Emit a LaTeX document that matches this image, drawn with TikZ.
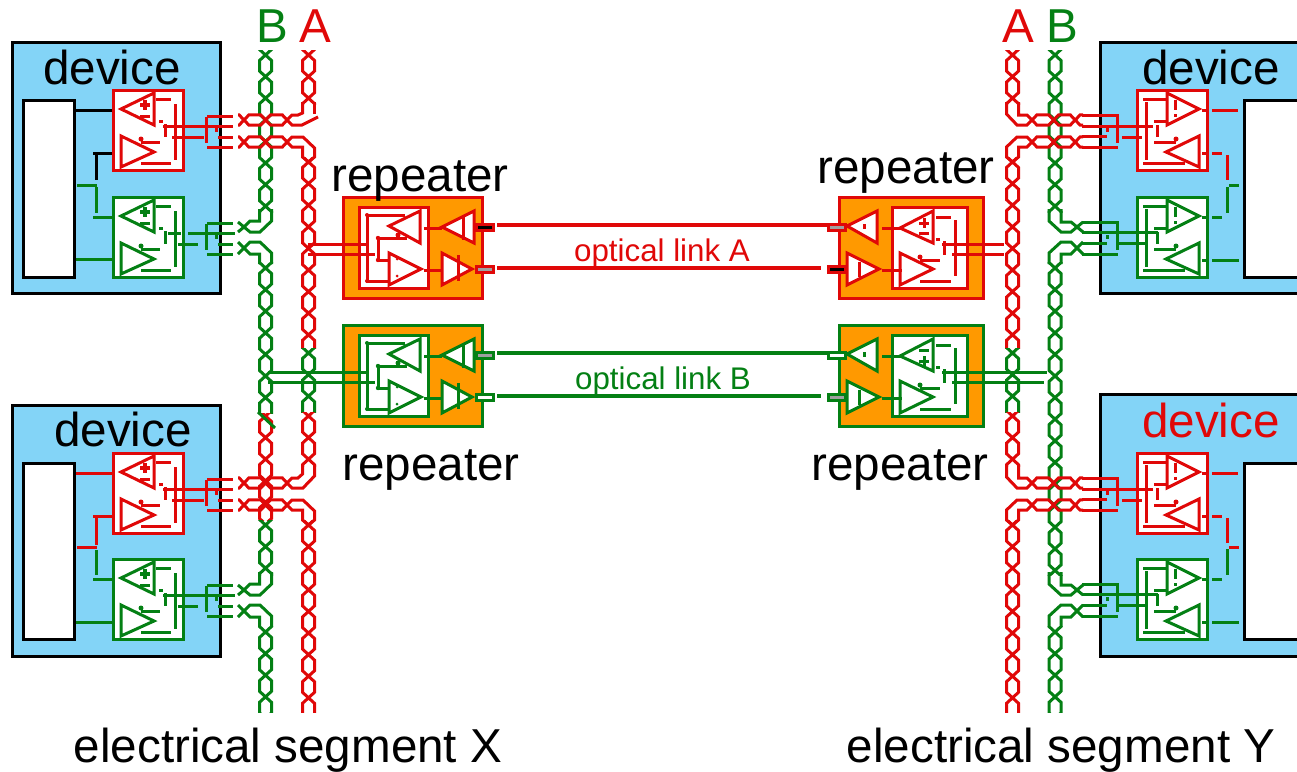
\documentclass[tikz,border=0pt]{standalone}
\usepackage{fontspec}
\setmainfont{Liberation Sans}
\definecolor{cR}{HTML}{E00808}
\definecolor{cG}{HTML}{048014}
\definecolor{cB}{HTML}{83D4F7}
\definecolor{cO}{HTML}{FF9900}
\definecolor{cGy}{HTML}{A0A0A0}
\tikzset{
 wire/.style={line width=3.2pt,line join=miter},
 fine/.style={line width=3pt,line join=miter},
 boxw/.style={line width=3pt,line join=miter},
 devbox/.style={draw=black,line width=3pt,fill=cB},
 slot/.style={draw=black,line width=3pt,fill=white},
 big/.style={font=\fontsize{47.6}{48}\selectfont,anchor=base},
 small/.style={font=\fontsize{31.3}{32}\selectfont,anchor=base},
}
% twisted pair, vertical: colour, x, first crossing, start, end
\newcommand\TwV[5]{\begin{scope}
 \clip (#2-10,#4) rectangle (#2+10,#5);
 \pgfmathtruncatemacro\nn{(#5-#3)/21.6+1}
 \foreach \k in {-1,...,\nn}{
  \pgfmathsetmacro\ya{#3+\k*21.6}\pgfmathsetmacro\yb{\ya+21.6}
  \draw[fine,#1] (#2,\ya)--(#2+6,\ya+5.5)--(#2+6,\yb-5.5)--(#2,\yb)--(#2-6,\yb-5.5)--(#2-6,\ya+5.5)--cycle;}
 \end{scope}}
% twisted pair, horizontal: colour, y, first crossing, start, end
\newcommand\TwH[5]{\begin{scope}
 \clip (#4,#2-10) rectangle (#5,#2+10);
 \pgfmathtruncatemacro\nn{(#5-#3)/21.6+1}
 \foreach \k in {-1,...,\nn}{
  \pgfmathsetmacro\xa{#3+\k*21.6}\pgfmathsetmacro\xb{\xa+21.6}
  \draw[fine,#1] (\xa,#2)--(\xa+5,#2+5.2)--(\xb-5,#2+5.2)--(\xb,#2)--(\xb-5,#2-5.2)--(\xa+5,#2-5.2)--cycle;}
 \end{scope}}
% transceiver, left devices
\newcommand\XL[4]{\begin{scope}[shift={(#1,#2)},color=#3]
 \draw[boxw,fill=white] (0,0) rectangle (70,80);
 \draw[fine] (8,19)--(41,3)--(41,35)--cycle;
 \draw[fine] (8,46)--(8,77)--(41,62)--cycle;
 \draw[wire] (32,10)--(32,20) (27,15)--(37,15);
 \draw[fine] (27,26)--(37,26);
 \draw[fine] (43,9)--(58,9) (62,14)--(62,70) (46,31)--(50,31) (52,34)--(52,47);
 \fill (28,49) circle (2.5);
 \draw[fine] (28,52)--(47,52) (28,73)--(58,73);
 #4
 \draw[fine] (94,26)--(120,26) (93,27)--(93,53) (94,57)--(120,57) (105,47)--(120,47) (103,38)--(103,42);
 \end{scope}}
% transceiver, right devices
\newcommand\XR[4]{\begin{scope}[shift={(#1,#2)},color=#3]
 \draw[boxw,fill=white] (0,0) rectangle (70,80);
 \draw[fine] (30,3)--(30,35)--(62,19)--cycle;
 \draw[fine] (29,62)--(62,46)--(62,77)--cycle;
 \draw[fine] (38,10)--(38,20) (38,24)--(38,27);
 \draw[fine] (6,9)--(31,9) (9,12)--(9,70) (6,73)--(48,73) (17,31)--(31,31) (20,35)--(20,47) (17,52)--(39,52);
 \fill (39,49) circle (2.5);
 \draw[fine] (65,20)--(70,20) (65,63)--(70,63);
 \draw[fine] (-55,25)--(-19,25) (-55,57)--(-19,57) (-20,24)--(-20,53) (-55,46)--(-30,46) (-30,38)--(-30,42);
 #4
 \end{scope}}
% left repeater: y, colour, bus start, upper port fill, lower port fill
\newcommand\RepL[5]{\begin{scope}[shift={(343,#1)},color=#2]
 \draw[boxw,fill=cO] (0,0) rectangle (139,101);
 \draw[boxw,fill=white] (16,10) rectangle (85,91);
 \draw[fine] (46,29)--(77,14)--(77,46)--cycle;
 \draw[fine] (46,56)--(46,88)--(78,72)--cycle;
 \draw[fine] (62,18)--(24,18)--(24,84)--(46,84);
 \draw[fine] (64,41)--(35,41)--(35,63)--(46,63);
 \fill (24,18) circle (2) (24,84) circle (2) (35,41) circle (2.2) (35,63) circle (2.2) (55,38) circle (2.5);
 \fill (54,62) circle (1.5) (54,79) circle (1.5);
 \draw[fine] (81,31)--(99,31) (81,73)--(100,73);
 \draw[fine,fill=white] (99,30)--(131,14)--(131,46)--cycle;
 \draw[fine,fill=white] (99,56)--(99,88)--(129,72)--cycle;
 \draw[fine] (120,18)--(120,43) (115,58)--(115,84);
 \draw[boxw,fill=#4] (133,27) rectangle (150,33);
 \draw[boxw,fill=#5] (133,69) rectangle (150,75);
 \draw[fine] (#3,47)--(26,47) (#3,57)--(32,57);
 \end{scope}}
% right repeater: y, colour, upper port fill, lower port fill, extras
\newcommand\RepR[5]{\begin{scope}[shift={(839,#1)},color=#2]
 \draw[boxw,fill=cO] (0,0) rectangle (144,101);
 \draw[boxw,fill=white] (53,10) rectangle (128,91);
 \draw[fine,fill=white] (8,29)--(38,14)--(38,46)--cycle;
 \draw[fine,fill=white] (8,56)--(8,88)--(40,72)--cycle;
 \draw[fine] (25,27)--(25,32) (20,65)--(20,80);
 \draw[fine] (43,31)--(61,31) (43,73)--(63,73);
 \draw[fine] (61,31)--(94,14)--(94,46)--cycle;
 \draw[fine] (61,56)--(61,88)--(94,72)--cycle;
 \fill (81,60) circle (2.5);
 \draw[fine] (81,63)--(101,63) (81,84)--(112,84) (97,20)--(112,20) (116,23)--(116,79) (97,42)--(101,42) (105,44)--(105,58);
 #5
 \draw[boxw,fill=#3] (-11,27) rectangle (6,33);
 \draw[boxw,fill=#4] (-11,69) rectangle (6,75);
 \end{scope}}
\begin{document}
\begin{tikzpicture}[x=1pt,y=-1pt]
\useasboundingbox (0,0) rectangle (1297,771);

% ---- devices
\draw[devbox] (12,42) rectangle (220,293);
\draw[slot] (23,100) rectangle (74,277);
\draw[devbox] (12,405) rectangle (220,656);
\draw[slot] (23,463) rectangle (74,639);
\draw[devbox] (1100,42) rectangle (1300,293);
\draw[slot] (1244,100) rectangle (1300,277);
\draw[devbox] (1100,394) rectangle (1300,656);
\draw[slot] (1244,463) rectangle (1300,639);

\node[big] (d1) at (112,84) {device};
\node[big] (d2) at (123,446) {device};
\node[big] (d3) at (1211,84) {device};
\node[big,text=cR] (d4) at (1211,437) {device};

% ---- transceiver wiring, left
\draw[fine,black] (76,110)--(121,110) (93,153)--(123,153) (96,153)--(96,180);
\draw[fine,cG] (77,185)--(97,185) (96,187)--(96,213) (93,217)--(121,217) (76,259)--(123,259);
\draw[fine,cR] (76,473)--(121,473) (93,516)--(123,516) (96,516)--(96,545) (77,547)--(97,547);
\draw[fine,cG] (96,550)--(96,575) (93,579)--(121,579) (76,622)--(123,622);

\XL{113}{90}{cR}{\draw[fine] (50,36)--(120,36) (59,47)--(91,47);}
\XL{113}{197}{cG}{\draw[fine] (55,36)--(68,36) (75,36)--(122,36) (65,47)--(85,47);}
\XL{113}{453}{cR}{\draw[fine] (50,36)--(120,36) (59,47)--(91,47);}
\XL{113}{559}{cG}{\draw[fine] (50,36)--(122,36) (65,47)--(85,47);}

% ---- transceiver wiring, right
\draw[fine,cR] (1212,110)--(1238,110) (1212,153)--(1222,153) (1227,155)--(1227,180);
\draw[fine,cG] (1229,185)--(1239,185) (1227,187)--(1227,213) (1212,217)--(1222,217) (1212,260)--(1239,260);
\draw[fine,cR] (1212,473)--(1238,473) (1212,516)--(1222,516) (1227,518)--(1227,543) (1229,547)--(1239,547);
\draw[fine,cG] (1227,549)--(1227,575) (1212,579)--(1222,579) (1212,622)--(1239,622);

\XR{1137}{90}{cR}{\draw[fine] (-55,36)--(16,36) (-15,47)--(5,47);}
\XR{1137}{197}{cG}{\draw[fine] (-55,35)--(21,35) (-19,46)--(10,46);}
\XR{1137}{453}{cR}{\draw[fine] (-55,36)--(16,36) (-15,47)--(5,47);}
\XR{1137}{559}{cG}{\draw[fine] (-55,35)--(21,35) (-19,46)--(10,46);}

% ---- bus B, left
\TwV{cG}{265.5}{55}{50}{212}
\TwV{cG}{265.5}{268}{262}{413}
\TwV{cR}{265.5}{416}{413}{520}
\TwV{cG}{265.5}{525}{520}{575}
\TwV{cG}{265.5}{632}{626}{712}
\draw[fine,cG] (258,412)--(275,428);
\foreach \o in {0,363}{
 \begin{scope}[shift={(0,\o)}]
 \draw[fine,cG] (259.5,209)--(259.5,221)--(250,221)--(244,227)--(238,232);
 \draw[fine,cG] (271.5,209)--(271.5,221)--(260,232)--(250,232)--(244,227)--(238,222);
 \draw[fine,cG] (238,242)--(244,248)--(250,254)--(259.5,254)--(259.5,264);
 \draw[fine,cG] (238,254)--(250,242)--(260,242)--(271.5,253)--(271.5,264);
 \end{scope}}

% ---- bus A, left
\TwV{cR}{308.5}{55}{50}{104}
\draw[fine,cR] (314.5,102)--(314.5,114);
\draw[fine,cR] (302.5,102)--(302.5,113)--(298,115)--(292,115)--(287,120);
\draw[fine,cR] (287,120)--(292,125)--(302,125)--(318,117);
\TwV{cR}{308.5}{162}{157}{348}
\TwV{cG}{308.5}{353}{348}{412}
\TwV{cR}{308.5}{416}{412}{466}
\TwV{cR}{308.5}{525}{520}{712}
\foreach \o in {0,363}{
 \begin{scope}[shift={(0,\o)}]
 \TwH{cR}{120}{244}{238}{287}
 \TwH{cR}{142}{244}{238}{287}
 \draw[fine,cR] (287,142)--(292,137)--(303,137)--(314.5,148)--(314.5,157)--(308.5,162);
 \draw[fine,cR] (287,142)--(292,147)--(302.5,147)--(302.5,157)--(308.5,162);
 \end{scope}}
\draw[fine,cR] (302.5,465)--(302.5,474)--(298,478)--(292,478)--(287,483);
\draw[fine,cR] (314.5,465)--(314.5,476)--(303,488)--(292,488)--(287,483);

% ---- bus B, right
\TwV{cG}{1055}{55}{50}{212}
\TwV{cG}{1055}{268}{262}{575}
\TwV{cG}{1055}{632}{626}{712}
\foreach \o in {0,363}{
 \begin{scope}[shift={(0,\o)}]
 \draw[fine,cG] (1049,209)--(1049,221)--(1061,232)--(1071,232)--(1077,227)--(1083,222);
 \draw[fine,cG] (1061,209)--(1061,222)--(1071,222)--(1077,227)--(1083,232);
 \draw[fine,cG] (1083,254)--(1071,242)--(1061,242)--(1049,253)--(1049,264);
 \draw[fine,cG] (1083,242)--(1071,254)--(1061,254)--(1061,264);
 \end{scope}}

% ---- bus A, right
\TwV{cR}{1012.5}{55}{50}{104}
\TwV{cR}{1012.5}{162}{157}{348}
\TwV{cG}{1012.5}{353}{348}{412}
\TwV{cR}{1012.5}{416}{412}{466}
\TwV{cR}{1012.5}{525}{520}{712}
\foreach \o in {0,363}{
 \begin{scope}[shift={(0,\o)}]
 \TwH{cR}{120}{1032}{1032}{1083}
 \TwH{cR}{142}{1032}{1032}{1083}
 \draw[fine,cR] (1006.5,102)--(1006.5,114)--(1017,125)--(1027,125)--(1032,120);
 \draw[fine,cR] (1018.5,102)--(1018.5,115)--(1027,115)--(1032,120);
 \draw[fine,cR] (1032,142)--(1027,137)--(1017,137)--(1006.5,147)--(1006.5,157)--(1012.5,162);
 \draw[fine,cR] (1032,142)--(1027,147)--(1018.5,147)--(1018.5,157)--(1012.5,162);
 \end{scope}}

% ---- repeaters
\RepL{197}{cR}{-35}{black}{cGy}
\RepL{325}{cG}{-75}{cGy}{white}
\RepR{197}{cR}{cGy}{black}{\draw[fine] (85,21)--(85,31) (80,26)--(90,26) (80,36)--(90,36);
 \draw[fine] (103,47)--(165,47) (113,57)--(165,57);}
\RepR{325}{cG}{white}{cGy}{\draw[fine] (85,31)--(85,41) (80,25)--(90,25) (80,36)--(90,36);
 \draw[fine] (103,47)--(208,47) (113,57)--(205,57);}

% ---- optical links
\coordinate (a1) at (497,225); \coordinate (a2) at (827,225);
\coordinate (a3) at (497,268); \coordinate (a4) at (821,268);
\coordinate (b1) at (497,353); \coordinate (b2) at (827,353);
\coordinate (b3) at (497,396); \coordinate (b4) at (821,396);
\draw[wire,cR] (a1)--(a2) (a3)--(a4);
\draw[wire,cG] (b1)--(b2) (b3)--(b4);
\node[small,text=cR] (la) at (662,261) {optical link A};
\node[small,text=cG] (lb) at (663,389) {optical link B};

% ---- labels
\node[big] (r1) at (420,191) {repeater};
\node[big] (r2) at (906,183) {repeater};
\node[big] (r3) at (431,480) {repeater};
\node[big] (r4) at (900,480) {repeater};
\node[big,text=cG] (tb1) at (272,42) {B};
\node[big,text=cR] (ta1) at (315,42) {A};
\node[big,text=cR] (ta2) at (1018,42) {A};
\node[big,text=cG] (tb2) at (1062,42) {B};
\node[big] (s1) at (288,762) {electrical segment X};
\node[big] (s2) at (1061,762) {electrical segment Y};
\end{tikzpicture}
\end{document}
